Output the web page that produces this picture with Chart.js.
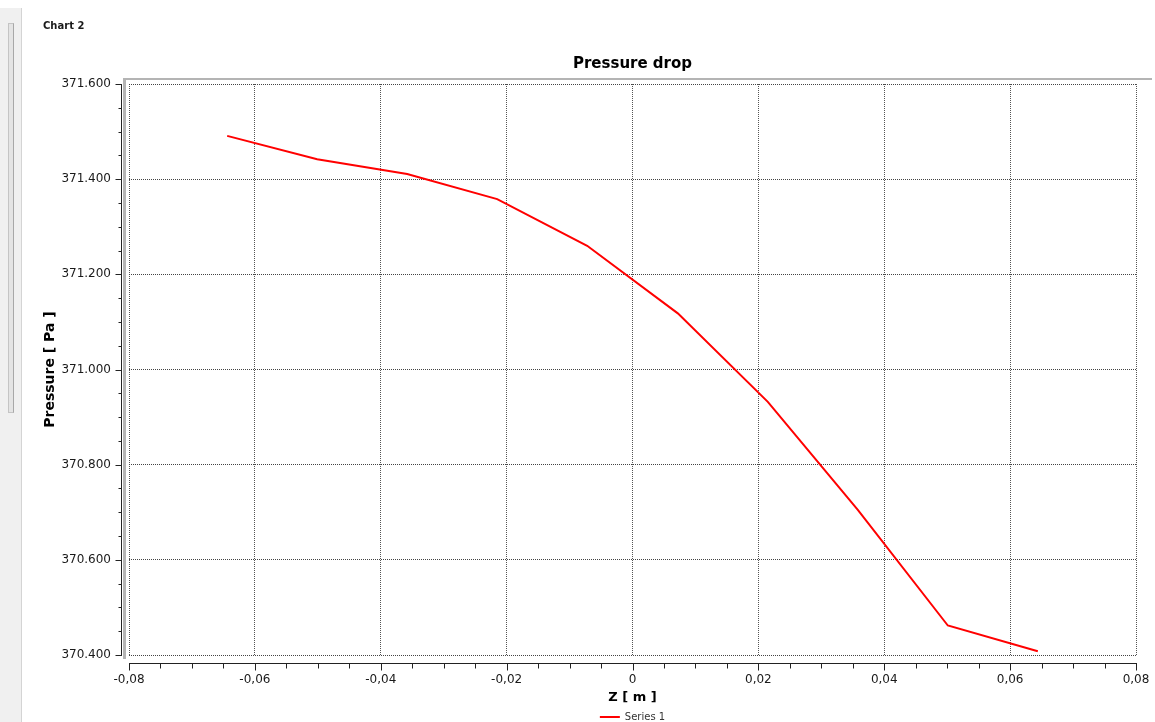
<!DOCTYPE html>
<html>
<head>
<meta charset="utf-8">
<script src="https://cdn.jsdelivr.net/npm/chart.js@4/dist/chart.umd.min.js"></script>
<style>
  html, body { margin: 0; padding: 0; background: #fff; }
  #wrap { position: relative; width: 1155px; height: 722px; overflow: hidden; }
  #c { position: absolute; left: 0; top: 0; }
  #strip { position: absolute; left: 0; top: 8px; width: 21px; height: 714px; background: #f0f0f0; border-right: 1px solid #d4d4d4; }
  #scroll { position: absolute; left: 8px; top: 23px; width: 4px; height: 388px; background: #e4e4e4; border: 1px solid #c4c4c4; border-right-color: #a8a8a8; }
  #label { position: absolute; left: 43px; top: 20px; font: bold 10px "DejaVu Sans", sans-serif; color: #1a1a1a; }
</style>
</head>
<body>
<div id="wrap">
  <canvas id="c" width="1155" height="722"></canvas>
  <div id="strip"></div>
  <div id="scroll"></div>
  <div id="label">Chart 2</div>
</div>
<script>
// ---- data ----
const zValues = [-0.0644, -0.0501, -0.0358, -0.0215, -0.0072, 0.0072, 0.0215, 0.0358, 0.0501, 0.0644];
const pressureValues = [371.491, 371.442, 371.411, 371.358, 371.260, 371.118, 370.932, 370.705, 370.462, 370.408];
const xTicks = [-0.08, -0.06, -0.04, -0.02, 0, 0.02, 0.04, 0.06, 0.08];
const xTickLabels = ['-0,08', '-0,06', '-0,04', '-0,02', '0', '0,02', '0,04', '0,06', '0,08'];
const yTicks = [370.4, 370.6, 370.8, 371.0, 371.2, 371.4, 371.6];
const yTickLabels = ['370.400', '370.600', '370.800', '371.000', '371.200', '371.400', '371.600'];
const seriesName = 'Series 1';
const chartTitle = 'Pressure drop';
const xTitle = 'Z [ m ]';
const yTitle = 'Pressure [ Pa ]';

const points = zValues.map((z, i) => ({ x: z, y: pressureValues[i] }));
const FONT = '"DejaVu Sans", sans-serif';

// offset axes with major + minor ticks, and grey frame
const axesPlugin = {
  id: 'offsetAxes',
  afterDraw(chart) {
    const { ctx, chartArea: ca } = chart;
    const xs = chart.scales.x, ys = chart.scales.y;
    ctx.save();
    // grey frame
    ctx.fillStyle = '#b4b4b4';
    ctx.fillRect(123, ca.top - 6, 1029, 2);
    ctx.fillRect(ca.left - 6, ca.top - 6, 3, ca.bottom - ca.top + 10);

    ctx.strokeStyle = '#222';
    ctx.lineWidth = 1;
    // y axis
    const ax = Math.round(ca.left - 8) + 0.5;
    const yTop = ys.getPixelForValue(yTicks[yTicks.length - 1]);
    const yBot = ys.getPixelForValue(yTicks[0]);
    ctx.beginPath();
    ctx.moveTo(ax, Math.round(yTop));
    ctx.lineTo(ax, Math.round(yBot) + 1);
    yTicks.forEach((v, i) => {
      const py = Math.round(ys.getPixelForValue(v)) + 0.5;
      ctx.moveTo(ax - 6, py); ctx.lineTo(ax, py);
      if (i < yTicks.length - 1) {
        const step = (yTicks[i + 1] - v) / 4;
        for (let k = 1; k < 4; k++) {
          const my = Math.round(ys.getPixelForValue(v + step * k)) + 0.5;
          ctx.moveTo(ax - 3, my); ctx.lineTo(ax, my);
        }
      }
    });
    ctx.stroke();
    // x axis
    const ay = Math.round(ca.bottom + 8) + 0.5;
    const xL = xs.getPixelForValue(xTicks[0]);
    const xR = xs.getPixelForValue(xTicks[xTicks.length - 1]);
    ctx.beginPath();
    ctx.moveTo(Math.round(xL), ay);
    ctx.lineTo(Math.round(xR) + 1, ay);
    xTicks.forEach((v, i) => {
      const px = Math.round(xs.getPixelForValue(v)) + 0.5;
      ctx.moveTo(px, ay); ctx.lineTo(px, ay + 7);
      if (i < xTicks.length - 1) {
        const step = (xTicks[i + 1] - v) / 4;
        for (let k = 1; k < 4; k++) {
          const mx = Math.round(xs.getPixelForValue(v + step * k)) + 0.5;
          ctx.moveTo(mx, ay); ctx.lineTo(mx, ay + 5);
        }
      }
    });
    ctx.stroke();
    ctx.restore();
  }
};

new Chart(document.getElementById('c'), {
  type: 'line',
  data: {
    datasets: [{
      label: seriesName,
      data: points,
      borderColor: '#ff0000',
      backgroundColor: '#ff0000',
      borderWidth: 2,
      pointRadius: 0,
      pointStyle: 'line',
      tension: 0,
      fill: false
    }]
  },
  options: {
    responsive: false,
    animation: false,
    layout: { padding: { left: 0, right: 19, top: 0, bottom: -10 } },
    plugins: {
      title: {
        display: true,
        text: chartTitle,
        fullSize: false,
        color: '#000',
        font: { family: FONT, size: 15, weight: 'bold' },
        padding: { top: 55, bottom: 11 }
      },
      legend: {
        display: true,
        position: 'bottom',
        fullSize: false,
        labels: {
          usePointStyle: true,
          pointStyle: 'line',
          pointStyleWidth: 20,
          padding: 7,
          color: '#333',
          font: { family: FONT, size: 10 }
        }
      },
      tooltip: { enabled: false }
    },
    scales: {
      x: {
        type: 'linear',
        min: xTicks[0],
        max: xTicks[xTicks.length - 1],
        afterBuildTicks(scale) { scale.ticks = xTicks.map(v => ({ value: v })); },
        afterFit(scale) { scale.height = 50; scale.paddingLeft = 0; scale.paddingRight = 0; },
        grid: { color: '#555', lineWidth: 1, drawTicks: false },
        border: { display: false, dash: [1, 1] },
        ticks: {
          autoSkip: false, maxRotation: 0, padding: 18,
          color: '#1a1a1a',
          font: { family: FONT, size: 12 },
          callback: (v, i) => xTickLabels[i]
        },
        title: {
          display: true, text: xTitle, color: '#000',
          font: { family: FONT, size: 13, weight: 'bold' },
          padding: { top: 0, bottom: 0 }
        }
      },
      y: {
        type: 'linear',
        min: yTicks[0],
        max: yTicks[yTicks.length - 1],
        afterBuildTicks(scale) { scale.ticks = yTicks.map(v => ({ value: v })); },
        afterFit(scale) { scale.width = 129; },
        grid: { color: '#444', lineWidth: 1, drawTicks: false },
        border: { display: false, dash: [1, 1] },
        ticks: {
          autoSkip: false, padding: 18,
          color: '#1a1a1a',
          font: { family: FONT, size: 12 },
          callback: (v, i) => yTickLabels[i]
        },
        title: {
          display: true, text: yTitle, color: '#000',
          font: { family: FONT, size: 14, weight: 'bold' },
          padding: { top: 42, bottom: 0 }
        }
      }
    }
  },
  plugins: [axesPlugin]
});
</script>
</body>
</html>
